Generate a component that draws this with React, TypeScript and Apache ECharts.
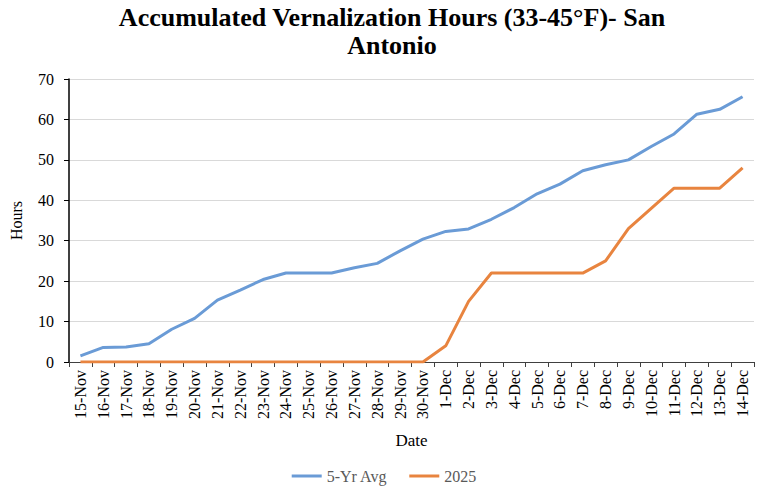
import { useEffect, useRef } from 'react';
import * as echarts from 'echarts';

const dates = [
  '15-Nov', '16-Nov', '17-Nov', '18-Nov', '19-Nov', '20-Nov', '21-Nov', '22-Nov', '23-Nov', '24-Nov',
  '25-Nov', '26-Nov', '27-Nov', '28-Nov', '29-Nov', '30-Nov', '1-Dec', '2-Dec', '3-Dec', '4-Dec',
  '5-Dec', '6-Dec', '7-Dec', '8-Dec', '9-Dec', '10-Dec', '11-Dec', '12-Dec', '13-Dec', '14-Dec'
];

const avg5yr = [
  1.5, 3.6, 3.7, 4.5, 8.1, 10.8, 15.3, 17.8, 20.4, 22,
  22, 22, 23.3, 24.4, 27.5, 30.4, 32.3, 32.9, 35.3, 38.2,
  41.6, 44, 47.3, 48.8, 50, 53.3, 56.4, 61.3, 62.5, 65.6
];

const y2025 = [
  0, 0, 0, 0, 0, 0, 0, 0, 0, 0,
  0, 0, 0, 0, 0, 0, 4, 15, 22, 22,
  22, 22, 22, 25, 33, 38, 43, 43, 43, 48
];

const serif = '"Liberation Serif", "Times New Roman", serif';

const App = () => {
  const chartRef = useRef<HTMLDivElement>(null);

  useEffect(() => {
    if (!chartRef.current) return;
    const chart = echarts.init(chartRef.current, null, { renderer: 'svg' });
    chart.setOption({
      animation: false,
      backgroundColor: '#fff',
      title: {
        text: 'Accumulated Vernalization Hours (33-45°F)- San\nAntonio',
        left: 387,
        top: -2,
        textAlign: 'center',
        textStyle: {
          fontFamily: serif,
          fontSize: 26,
          fontWeight: 'bold',
          color: '#000',
          lineHeight: 28
        }
      },
      legend: {
        top: 463,
        left: 'center',
        itemWidth: 30,
        itemHeight: 3,
        itemGap: 22,
        icon: 'rect',
        textStyle: { fontFamily: serif, fontSize: 16, color: '#595959' },
        data: ['5-Yr Avg', '2025']
      },
      grid: { left: 61, right: 14, top: 79, bottom: 135 },
      xAxis: {
        type: 'category',
        data: dates,
        boundaryGap: true,
        name: 'Date',
        nameLocation: 'middle',
        nameGap: 70,
        nameTextStyle: { fontFamily: serif, fontSize: 17, color: '#000' },
        axisLine: { lineStyle: { color: '#404040', width: 1 } },
        axisTick: { show: true, alignWithLabel: false, length: 5, lineStyle: { color: '#404040' } },
        axisLabel: {
          rotate: 90,
          interval: 0,
          margin: 8,
          fontFamily: serif,
          fontSize: 16,
          color: '#000'
        },
        splitLine: { show: false }
      },
      yAxis: {
        type: 'value',
        min: 0,
        max: 70,
        interval: 10,
        name: 'Hours',
        nameLocation: 'middle',
        nameGap: 45,
        nameRotate: 90,
        nameTextStyle: { fontFamily: serif, fontSize: 16, color: '#000' },
        axisLine: { show: true, lineStyle: { color: '#000', width: 1.5 } },
        axisTick: { show: true, length: 5, lineStyle: { color: '#000' } },
        axisLabel: { fontFamily: serif, fontSize: 16, color: '#000', margin: 15 },
        splitLine: { lineStyle: { color: '#d9d9d9', width: 1 } }
      },
      series: [
        {
          name: '5-Yr Avg',
          type: 'line',
          data: avg5yr,
          showSymbol: false,
          symbol: 'none',
          lineStyle: { color: '#6a9bd6', width: 3 },
          itemStyle: { color: '#6a9bd6' }
        },
        {
          name: '2025',
          type: 'line',
          data: y2025,
          showSymbol: false,
          symbol: 'none',
          lineStyle: { color: '#e8843f', width: 3 },
          itemStyle: { color: '#e8843f' }
        }
      ]
    });
    return () => chart.dispose();
  }, []);

  return <div ref={chartRef} style={{ width: 768, height: 497, margin: -8 }} />;
};

export default App;
